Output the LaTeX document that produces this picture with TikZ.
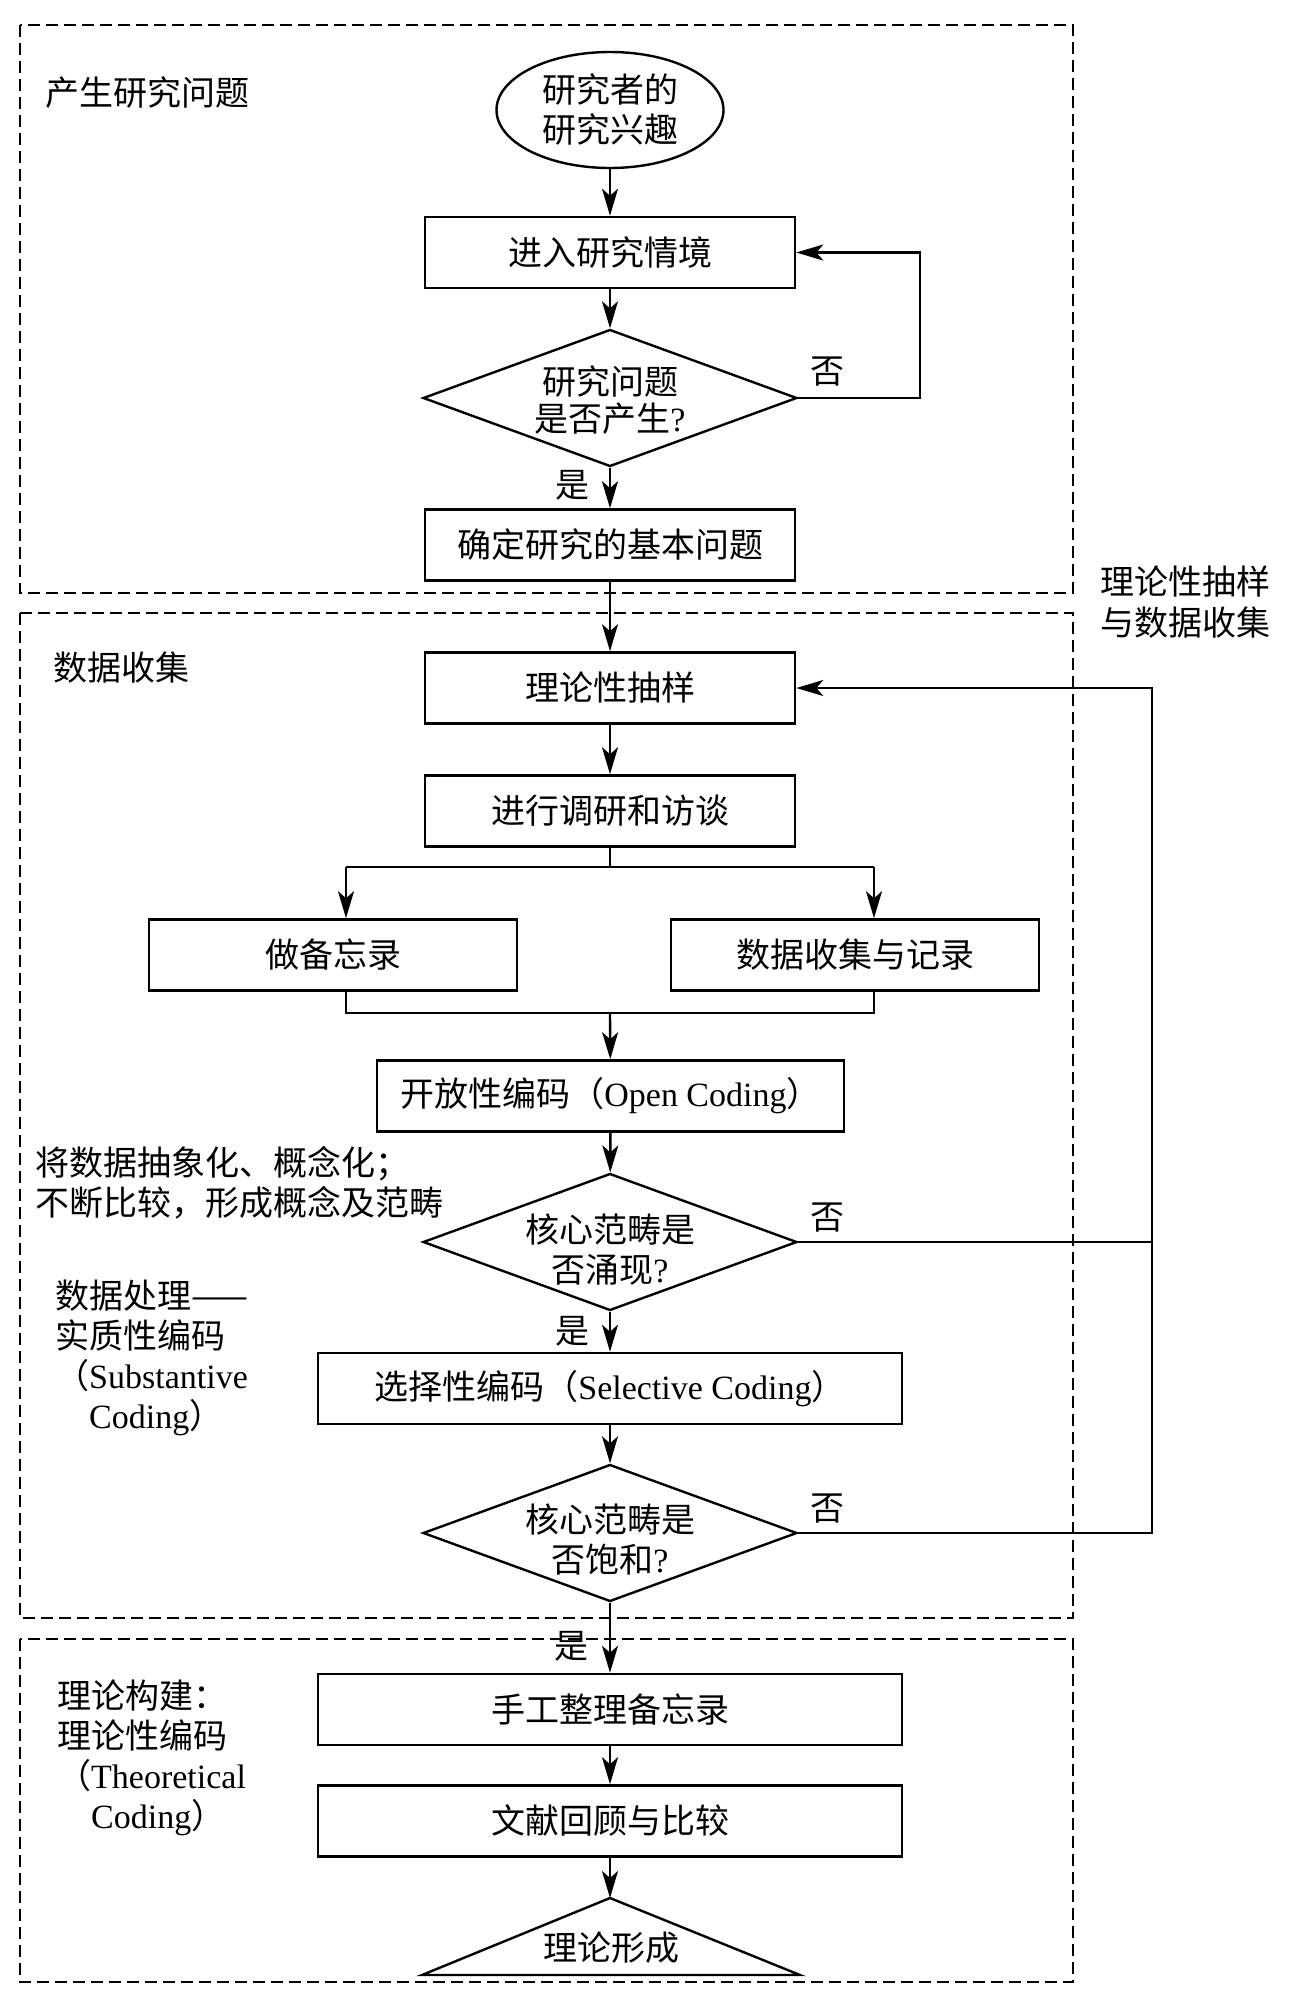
\documentclass[tikz,border=0pt]{standalone}
\usepackage{fontspec}
\setmainfont{Noto Sans CJK SC}
\newfontfamily\lat{Liberation Serif}
\usetikzlibrary{shapes.geometric,arrows.meta}
\begin{document}
\begin{tikzpicture}[x=1pt,y=-1pt,
  txt/.style={font=\fontsize{34pt}{40pt}\selectfont},
  box/.style={draw, line width=2.6pt, minimum width=370pt, minimum height=71pt, inner sep=0pt, txt},
  wbox/.style={box, minimum width=584pt},
  ln/.style={line width=2.4pt},
  arr/.style={line width=2.4pt, -{Stealth[length=27pt,width=16pt,inset=7pt]}},
  sect/.style={line width=2.2pt, dash pattern=on 12pt off 6pt},
  dia/.style={diamond, draw, line width=2.4pt, minimum width=374pt, minimum height=137pt, inner sep=0pt},
  lab/.style={txt, inner sep=0pt},
  side/.style={txt, inner sep=0pt, anchor=west, align=left}]
\useasboundingbox (0,0) rectangle (1291,1992);
\fill[white] (0,0) rectangle (1291,1992);

% section frames
\draw[sect] (20,25) rectangle (1073,593);
\draw[sect] (20,613) rectangle (1073,1618);
\draw[sect] (20,1639) rectangle (1073,1982);

% section labels
\node[side] (s1) at (45,93) {产生研究问题};
\node[side] (s2) at (53,668) {数据收集};
\node[side] (s3) at (1100,602) {理论性抽样\\[1pt]与数据收集};
\node[side] (s4) at (35,1183) {将数据抽象化、概念化；\\不断比较，形成概念及范畴};
\node[side] (s5) at (55,1358) {数据处理——\\实质性编码\\（{\lat Substantive}\\\hspace*{1em}{\lat Coding}）};
\node[side] (s6) at (57,1758) {理论构建：\\理论性编码\\（{\lat Theoretical}\\\hspace*{1em}{\lat Coding}）};

% nodes
\node[ellipse, draw, line width=2.4pt, minimum width=227pt, minimum height=116pt, inner sep=0pt, align=center, txt] (e1) at (610,110) {研究者的\\研究兴趣};
\node[box] (b1) at (610,252.5) {进入研究情境};
\node[dia] (d1) at (610,398) {};
\node[txt, align=center, font=\fontsize{34pt}{37pt}\selectfont] (d1t) at (610,400) {研究问题\\是否产生{\lat ?}};
\node[box] (b2) at (610,545) {确定研究的基本问题};
\node[box] (b3) at (610,688) {理论性抽样};
\node[box] (b4) at (610,811) {进行调研和访谈};
\node[box, minimum width=368pt] (b5) at (333,955) {做备忘录};
\node[box, minimum width=368pt] (b6) at (855,955) {数据收集与记录};
\node[box, minimum width=467pt] (b7) at (610.5,1096) {开放性编码（{\lat Open Coding}）};
\node[dia] (d2) at (610,1242) {};
\node[txt, align=center] (d2t) at (610,1250) {核心范畴是\\否涌现{\lat ?}};
\node[wbox] (b8) at (610,1388.5) {选择性编码（{\lat Selective Coding}）};
\node[dia] (d3) at (610,1533) {};
\node[txt, align=center] (d3t) at (610,1539) {核心范畴是\\否饱和{\lat ?}};
\node[wbox] (b9) at (610,1709.5) {手工整理备忘录};
\node[wbox] (b10) at (610,1821) {文献回顾与比较};
\coordinate (t1) at (610,1898);
\draw[ln] (t1) -- (800,1975) -- (422,1975) -- cycle;
\node[txt] (t1t) at (611,1948) {理论形成};

% yes / no labels
\node[lab] (n1) at (827,372) {否};
\node[lab] (n2) at (827,1218) {否};
\node[lab] (n3) at (827,1509) {否};
\node[lab] (y1) at (572,485) {是};
\node[lab] (y2) at (572,1331) {是};
\node[lab] (y3) at (571,1646) {是};

% connectors
\draw[arr] (e1) -- (b1);
\draw[arr] (b1) -- (d1);
\draw[arr] (d1) -- (b2);
\draw[arr] (b2) -- (b3);
\draw[arr] (b3) -- (b4);

\coordinate (sp) at (610,867);
\coordinate (sl) at (346,867);
\coordinate (sr) at (874,867);
\draw[ln] (b4.south) -- (sp);
\draw[ln] (sl) -- (sr);
\draw[arr] (sl) -- (sl |- b5.north);
\draw[arr] (sr) -- (sr |- b6.north);

\coordinate (ml) at (346,1013);
\coordinate (mr) at (874,1013);
\coordinate (mc) at (610,1013);
\draw[ln] (ml |- b5.south) -- (ml) -- (mr) -- (mr |- b6.south);
\draw[arr] (mc) -- (b7);

\draw[arr] (b7) -- (d2);
\draw[arr] (d2) -- (b8);
\draw[arr] (b8) -- (d3);
\draw[arr] (d3) -- (b9);
\draw[arr] (b9) -- (b10);
\draw[arr] (b10) -- (t1);

% feedback loops
\coordinate (lp1) at (920,0);
\draw[arr] (d1.east) -- (d1.east -| lp1) -- (lp1 |- b1.east) -- (b1.east);
\coordinate (lp2) at (1152,0);
\draw[ln] (d2.east) -- (d2.east -| lp2);
\draw[arr] (d3.east) -- (d3.east -| lp2) -- (lp2 |- b3.east) -- (b3.east);
\end{tikzpicture}
\end{document}
